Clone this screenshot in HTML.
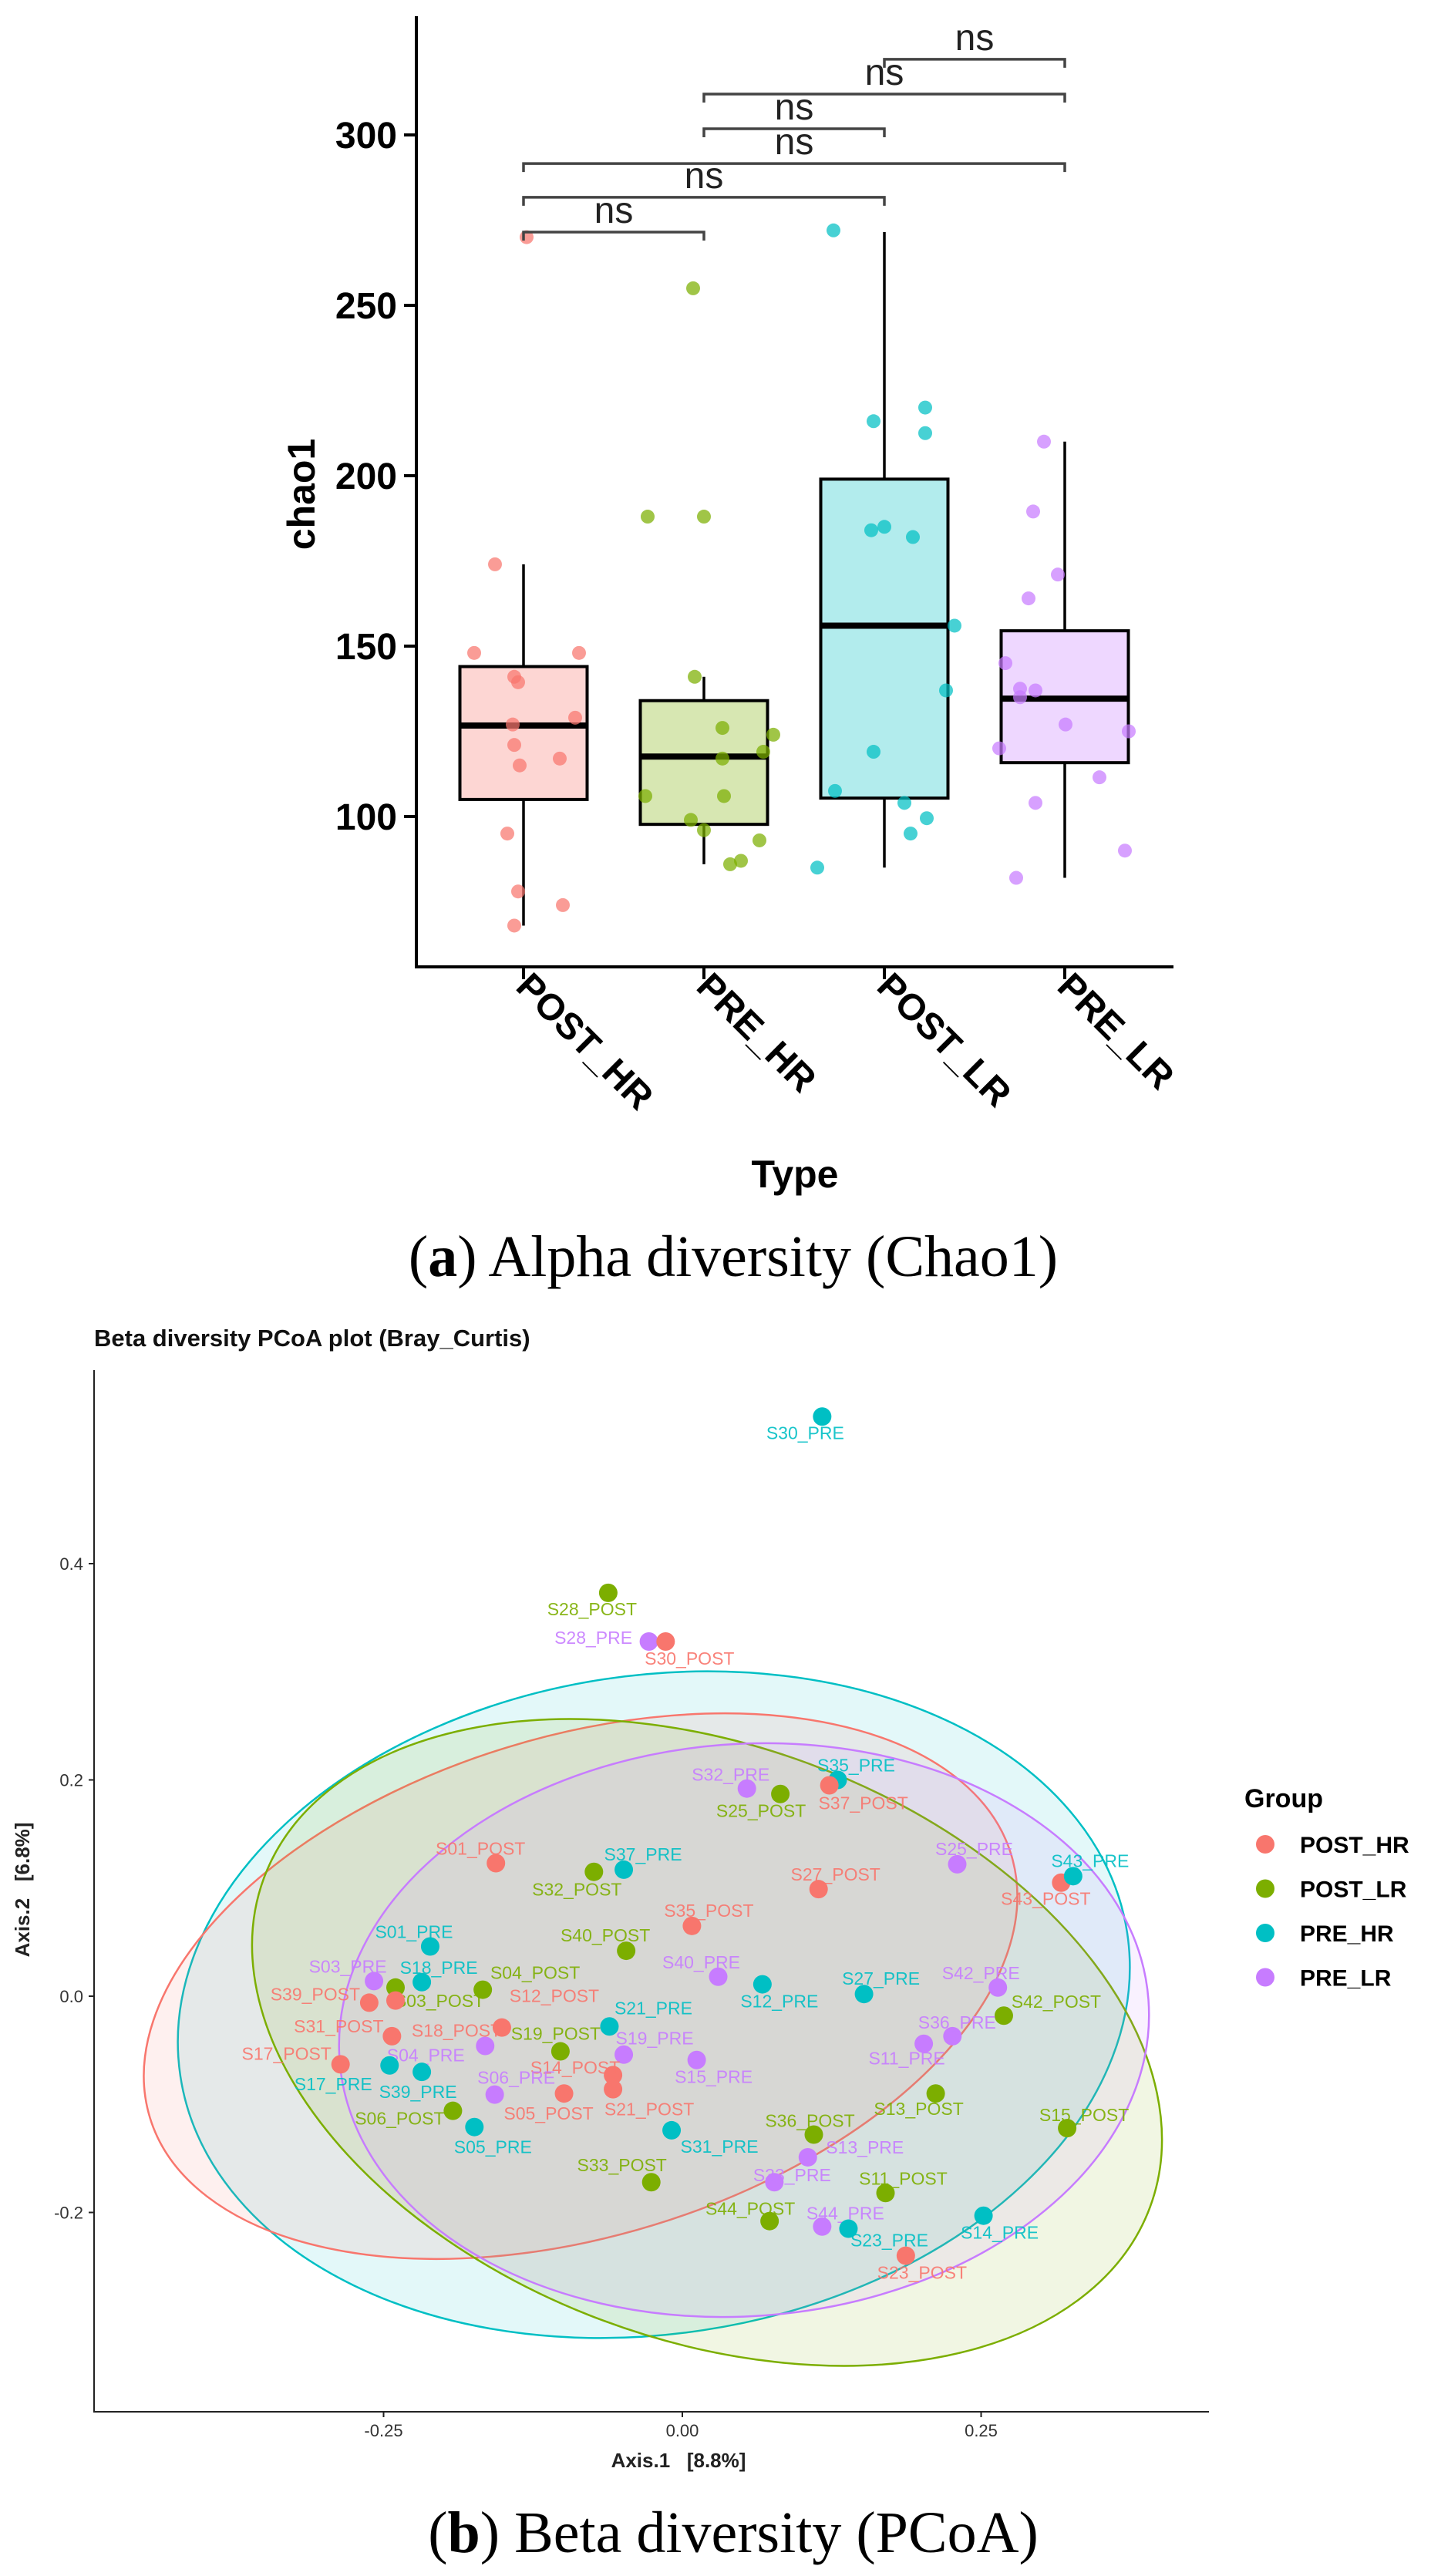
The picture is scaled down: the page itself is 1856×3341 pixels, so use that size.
<!DOCTYPE html>
<html><head><meta charset="utf-8">
<style>
html,body{margin:0;padding:0;background:#fff;}
svg{display:block;font-family:"Liberation Sans",sans-serif;}
</style></head>
<body>
<svg id="fig" width="1856" height="3341" viewBox="0 0 1856 3341" xmlns="http://www.w3.org/2000/svg">
  <g id="alpha"></g>
  <text x="1031" y="1540" font-size="50" font-weight="bold" text-anchor="middle">Type</text>
  <text transform="translate(408,641) rotate(-90)" font-size="50" font-weight="bold" text-anchor="middle">chao1</text>
  <text x="951" y="1655" font-family="Liberation Serif, serif" font-size="76" text-anchor="middle">(<tspan font-weight="bold">a</tspan>) Alpha diversity (Chao1)</text>

  <text x="122" y="1746" font-size="31" font-weight="bold" fill="#111">Beta diversity PCoA plot (Bray_Curtis)</text>
  <g id="beta"></g>
  <text x="880" y="3200" font-size="26" font-weight="bold" text-anchor="middle" fill="#222" xml:space="preserve">Axis.1   [8.8%]</text>
  <text transform="translate(38,2451) rotate(-90)" font-size="26" font-weight="bold" text-anchor="middle" fill="#222" xml:space="preserve">Axis.2   [6.8%]</text>
  <g>
    <text x="1614" y="2344" font-size="34" font-weight="bold">Group</text>
    <g id="legendItems"></g>
  </g>
  <text x="951" y="3310" font-family="Liberation Serif, serif" font-size="76" text-anchor="middle">(<tspan font-weight="bold">b</tspan>) Beta diversity (PCoA)</text>
</svg>
<script>
// ---------- Alpha diversity data ----------
const categories = ["POST_HR","PRE_HR","POST_LR","PRE_LR"];
const boxColors = ["#F8766D","#7CAE00","#00BFC4","#C77CFF"];
const q1 = [105, 97.7, 105.4, 115.8];
const medians = [126.7, 117.6, 156, 134.6];
const q3 = [144, 134, 199, 154.5];
const whiskerLow = [68, 86, 85, 82];
const whiskerHigh = [174, 141, 271.5, 210];
const yTicks = [100,150,200,250,300];
const ptsPostHR = [270,174,148,148,141,139.4,129,127,121,117,115,95,78,74,68];
const ptsPreHR  = [255,188,188,141,126,124,119,117,106,106,99,96,93,87,86];
const ptsPostLR = [272,220,216,212.5,185,184,182,156,137,119,107.5,104,99.5,95,85];
const ptsPreLR  = [210,189.5,171,164,145,137.5,137,135,127,125,120,111.5,104,90,82];
const jitPostHR = [4,-37,-64,72,-12,-7,67,-14,-12,47,-5,-21,-7,51,-12];
const jitPreHR  = [-14,-73,0,-12,24,90,77,24,-76,26,-17,0,72,48,34];
const jitPostLR = [-66,53,-14,53,0,-17,37,91,80,-14,-64,26,55,34,-87];
const jitPreLR  = [-27,-41,-9,-47,-77,-58,-38,-58,1,83,-85,45,-38,78,-63];
const bracketPairs = [[0,1],[0,2],[0,3],[1,2],[1,3],[2,3]];
const bracketValues = [271.5,281.7,291.6,301.8,312,322.2];
const bracketLabels = ["ns","ns","ns","ns","ns","ns"];

// ---------- Beta diversity data ----------
const sampleNames = ["S30_PRE","S28_POST","S28_PRE","S30_POST","S35_PRE","S37_POST","S32_PRE","S25_POST","S01_POST","S25_PRE","S43_POST","S43_PRE","S32_POST","S37_PRE","S27_POST","S35_POST","S01_PRE","S40_POST","S40_PRE","S12_PRE","S27_PRE","S42_PRE","S42_POST","S03_PRE","S18_PRE","S04_POST","S03_POST","S39_POST","S18_POST","S12_POST","S21_PRE","S31_POST","S19_POST","S19_PRE","S15_PRE","S36_PRE","S11_PRE","S17_POST","S04_PRE","S17_PRE","S39_PRE","S14_POST","S21_POST","S06_PRE","S05_POST","S13_POST","S06_POST","S05_PRE","S31_PRE","S36_POST","S15_POST","S13_PRE","S33_POST","S33_PRE","S11_POST","S14_PRE","S44_POST","S44_PRE","S23_PRE","S23_POST"];
const sampleGroups = ["PRE_HR","POST_LR","PRE_LR","POST_HR","PRE_HR","POST_HR","PRE_LR","POST_LR","POST_HR","PRE_LR","POST_HR","PRE_HR","POST_LR","PRE_HR","POST_HR","POST_HR","PRE_HR","POST_LR","PRE_LR","PRE_HR","PRE_HR","PRE_LR","POST_LR","PRE_LR","PRE_HR","POST_LR","POST_LR","POST_HR","POST_HR","POST_HR","PRE_HR","POST_HR","POST_LR","PRE_LR","PRE_LR","PRE_LR","PRE_LR","POST_HR","PRE_LR","PRE_HR","PRE_HR","POST_HR","POST_HR","PRE_LR","POST_HR","POST_LR","POST_LR","PRE_HR","PRE_HR","POST_LR","POST_LR","PRE_LR","POST_LR","PRE_LR","POST_LR","PRE_HR","POST_LR","PRE_LR","PRE_HR","POST_HR"];
const axis1 = [0.117,-0.062,-0.028,-0.014,0.130,0.123,0.054,0.082,-0.156,0.230,0.317,0.327,-0.074,-0.049,0.114,0.008,-0.211,-0.047,0.030,0.067,0.152,0.264,0.269,-0.258,-0.218,-0.167,-0.240,-0.262,-0.240,-0.151,-0.061,-0.243,-0.102,-0.049,0.012,0.226,0.202,-0.286,-0.165,-0.245,-0.218,-0.058,-0.058,-0.157,-0.099,0.212,-0.192,-0.174,-0.009,0.110,0.322,0.105,-0.026,0.077,0.170,0.252,0.073,0.117,0.139,0.187];
const axis2 = [0.536,0.373,0.328,0.328,0.200,0.195,0.192,0.187,0.123,0.122,0.105,0.111,0.115,0.117,0.099,0.065,0.046,0.042,0.018,0.011,0.002,0.008,-0.018,0.014,0.013,0.006,0.008,-0.006,-0.004,-0.029,-0.028,-0.037,-0.051,-0.054,-0.059,-0.037,-0.044,-0.063,-0.046,-0.064,-0.070,-0.073,-0.086,-0.091,-0.090,-0.090,-0.106,-0.121,-0.124,-0.128,-0.122,-0.149,-0.172,-0.172,-0.182,-0.203,-0.208,-0.213,-0.215,-0.240];
const labelDx = [-22,-21,-72,31,24,44,-21,-25,-20,22,-20,22,-22,25,22,22,-21,-27,-22,22,22,-22,68,-34,22,68,57,-70,79,68,57,-69,-6,40,22,6,-22,-70,-77,-73,-5,-49,47,28,-20,-22,-69,24,62,-5,22,74,-38,23,23,21,-25,30,53,21];
const labelDy = [21,21,-5,22,-19,23,-18,22,-19,-20,21,-20,23,-20,-19,-20,-19,-20,-19,22,-20,-19,-18,-19,-19,-22,17,-11,39,-41,-24,-13,-23,-21,22,-18,19,-14,12,24,26,-10,26,-22,26,20,10,26,21,-18,-17,-13,-22,-9,-19,22,-16,-17,15,22];
const groupNames = ["POST_HR","POST_LR","PRE_HR","PRE_LR"];
const groupColors = {"POST_HR":"#F8766D","POST_LR":"#7CAE00","PRE_HR":"#00BFC4","PRE_LR":"#C77CFF"};
const xTicksB = [-0.25,0,0.25];
const xTickLabelsB = ["-0.25","0.00","0.25"];
const yTicksB = [-0.2,0,0.2,0.4];
const yTickLabelsB = ["-0.2","0.0","0.2","0.4"];

const NS = "http://www.w3.org/2000/svg";
function mk(tag, attrs, parent){
  const e = document.createElementNS(NS, tag);
  for (const k in attrs) e.setAttribute(k, attrs[k]);
  parent.appendChild(e);
  return e;
}

// ---------- Alpha chart ----------
const A = document.getElementById('alpha');
const yA = v => 175 + (300 - v) * 4.42;
const xA = i => 679 + i * 234;
const BW = 165;

let e;
e = mk('line',{x1:540,y1:21,x2:540,y2:1254,stroke:'#000','stroke-width':4},A);


e = mk('line',{x1:538,y1:1254,x2:1522,y2:1254,stroke:'#000','stroke-width':4},A);



yTicks.forEach(v=>{
  const t = mk('line',{x1:524,y1:yA(v),x2:540,y2:yA(v),stroke:'#000','stroke-width':4},A);
  
  
  const l = mk('text',{x:515,y:yA(v)+17,'font-size':48,'font-weight':'bold','text-anchor':'end'},A);
  l.textContent = v;
  
  
});

const allPts = [ptsPostHR, ptsPreHR, ptsPostLR, ptsPreLR];
const allJit = [jitPostHR, jitPreHR, jitPostLR, jitPreLR];
categories.forEach((c,i)=>{
  const cx = xA(i);
  const tk = mk('line',{x1:cx,y1:1254,x2:cx,y2:1270,stroke:'#000','stroke-width':4},A);
  
  
  const lb = mk('text',{transform:`translate(${cx-12},${1282}) rotate(45)`,'font-size':48,'font-weight':'bold','text-anchor':'start'},A);
  lb.textContent = c;
  
  

  const g = mk('g',{},A);
  
  
  const w1 = mk('line',{x1:cx,y1:yA(whiskerHigh[i]),x2:cx,y2:yA(q3[i]),stroke:'#000','stroke-width':3.5},g);
  
  
  const w2 = mk('line',{x1:cx,y1:yA(q1[i]),x2:cx,y2:yA(whiskerLow[i]),stroke:'#000','stroke-width':3.5},g);
  
  
  const r = mk('rect',{x:cx-BW/2,y:yA(q3[i]),width:BW,height:yA(q1[i])-yA(q3[i]),fill:boxColors[i],'fill-opacity':0.3,stroke:'#000','stroke-width':4},g);
  
  
  const m = mk('line',{x1:cx-BW/2,y1:yA(medians[i]),x2:cx+BW/2,y2:yA(medians[i]),stroke:'#000','stroke-width':8},g);
  
  
  allPts[i].forEach((v,j)=>{
    const p = mk('circle',{cx:cx+allJit[i][j],cy:yA(v),r:9,fill:boxColors[i],'fill-opacity':0.72},A);
    
    
  });
});

bracketPairs.forEach((pr,k)=>{
  const y = yA(bracketValues[k]);
  const x1 = xA(pr[0]), x2 = xA(pr[1]);
  const b = mk('path',{d:`M${x1},${y+11}V${y}H${x2}V${y+11}`,fill:'none',stroke:'#444','stroke-width':3.5},A);
  
  
  const t = mk('text',{x:(x1+x2)/2,y:y-12,'font-size':48,'text-anchor':'middle',fill:'#222'},A);
  t.textContent = bracketLabels[k];
  
  
});

// ---------- Beta chart ----------
const B = document.getElementById('beta');
const xB = v => 885 + v * 1550;
const yB = v => 2589 - v * 1402.5;

const ellipses = [
  {g:"PRE_HR", cx:848, cy:2600, rx:621, ry:427, rot:-8.6},
  {g:"POST_HR", cx:753, cy:2576, rx:584, ry:324, rot:-17},
  {g:"POST_LR", cx:917, cy:2649, rx:613, ry:385, rot:20.4},
  {g:"PRE_LR", cx:965, cy:2633, rx:526, ry:371, rot:-4.3}
];
ellipses.forEach(el=>{
  const c = groupColors[el.g];
  const en = mk('ellipse',{cx:el.cx,cy:el.cy,rx:el.rx,ry:el.ry,transform:`rotate(${el.rot} ${el.cx} ${el.cy})`,fill:c,'fill-opacity':0.11,stroke:c,'stroke-width':2.5},B);
  
  
});

e = mk('line',{x1:122,y1:1777,x2:122,y2:3128,stroke:'#222','stroke-width':2},B);


e = mk('line',{x1:121,y1:3128,x2:1568,y2:3128,stroke:'#222','stroke-width':2},B);



yTicksB.forEach((v,k)=>{
  const t = mk('line',{x1:115,y1:yB(v),x2:122,y2:yB(v),stroke:'#222','stroke-width':2},B);
  
  
  const l = mk('text',{x:108,y:yB(v)+8,'font-size':22,'text-anchor':'end',fill:'#333'},B);
  l.textContent = yTickLabelsB[k];
  
  
});
xTicksB.forEach((v,k)=>{
  const t = mk('line',{x1:xB(v),y1:3128,x2:xB(v),y2:3135,stroke:'#222','stroke-width':2},B);
  
  
  const l = mk('text',{x:xB(v),y:3160,'font-size':22,'text-anchor':'middle',fill:'#333'},B);
  l.textContent = xTickLabelsB[k];
  
  
});

sampleNames.forEach((n,i)=>{
  const c = groupColors[sampleGroups[i]];
  const px = xB(axis1[i]), py = yB(axis2[i]);
  const p = mk('circle',{cx:px,cy:py,r:12,fill:c},B);
  
  
  const t = mk('text',{x:px+labelDx[i],y:py+labelDy[i]+8,'font-size':23,'text-anchor':'middle',fill:c,'fill-opacity':0.9},B);
  t.textContent = n;
  
  
});

const LG = document.getElementById('legendItems');
groupNames.forEach((g,k)=>{
  const y = 2392 + k*57.5;
  const d = mk('circle',{cx:1641,cy:y,r:12,fill:groupColors[g]},LG);
  
  
  const t = mk('text',{x:1686,y:y+11,'font-size':30,'font-weight':'bold'},LG);
  t.textContent = g;
  
  
});
</script>
</body></html>
